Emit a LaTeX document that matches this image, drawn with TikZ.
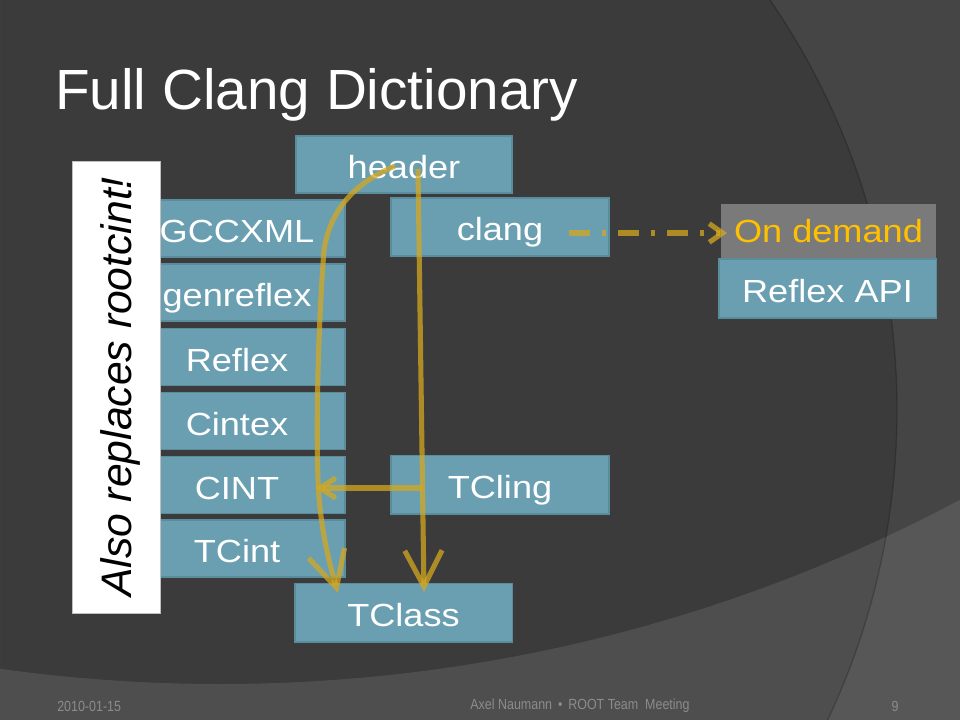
\documentclass[tikz,border=0pt]{standalone}
\usepackage{fontspec}
\setmainfont{Liberation Sans}
\newfontfamily\boxfont[FakeStretch=1.13]{Liberation Sans}
\newfontfamily\footfont[FakeStretch=0.85]{Liberation Sans}
\usetikzlibrary{arrows.meta,calc}
\definecolor{bgdark}{HTML}{3B3B3B}
\definecolor{bgright}{HTML}{454545}
\definecolor{boxfill}{HTML}{6A9FB2}
\definecolor{boxline}{HTML}{5A8C9E}
\definecolor{gold}{HTML}{D4A820}
\definecolor{demandgray}{HTML}{7A7A7A}
\definecolor{demandtext}{HTML}{FFC000}
\definecolor{foot}{HTML}{8C8C8C}
\tikzset{
  blk/.style={draw=boxline, line width=1pt, fill=boxfill, inner sep=0pt,
    text=white, font=\boxfont\fontsize{24}{28}\selectfont,
    text height=21pt, text depth=0pt},
  colbox/.style={blk, minimum width=162pt, minimum height=42.75pt},
  flow/.style={draw=gold, draw opacity=0.75, line width=3.8pt},
  bigtip/.style={-{Straight Barb[length=27pt,width=28pt]}},
  smalltip/.style={-{Straight Barb[length=12pt,width=15pt]}},
  foottext/.style={text=foot, font=\footfont\fontsize{11}{13}\selectfont, inner sep=0pt}
}
\begin{document}
\begin{tikzpicture}[x=0.75pt,y=-0.75pt]
\useasboundingbox (0,0) rectangle (960,720);
% background
\begin{scope}
  \clip (0,0) rectangle (960,720);
  \fill[bgright] (0,0) rectangle (960,720);
  \fill[bgdark] (172,410) circle[radius=725];
  \fill[white, opacity=0.1, even odd rule] (0,0) rectangle (960,720) (220,-892) circle[radius=1576];
  \draw[black, opacity=0.2, line width=1pt] (172,410) circle[radius=725];
\end{scope}

% title
\node[anchor=base west, inner sep=0pt, text=white, font=\fontsize{42.5}{48}\selectfont] (title) at (55,110) {Full Clang Dictionary};

% left column
\node[colbox] (gccxml)    at (237,228.5) {GCCXML};
\node[colbox] (genreflex) at (237,292.5) {genreflex};
\node[colbox] (reflex)    at (237,357)   {Reflex};
\node[colbox] (cintex)    at (237,421)   {Cintex};
\node[colbox] (cint)      at (237,485)   {CINT};
\node[colbox] (tcint)     at (237,548.5) {TCint};

% white side box
\node[draw=black!25, line width=0.6pt, fill=white, rotate=90, inner sep=0pt,
      minimum width=339pt, minimum height=66pt, text=black,
      font=\itshape\fontsize{32}{36}\selectfont, text height=23pt, text depth=0pt]
      (also) at (116,387) {Also replaces rootcint!};

% central boxes
\node[blk, minimum width=162pt, minimum height=42.75pt] (header) at (404,164.5) {header};
\node[blk, minimum width=163.5pt, minimum height=43.5pt] (clang) at (500,227) {clang};
\node[blk, minimum width=163.5pt, minimum height=44pt] (tcling) at (500,484.5) {TCling};
\node[blk, minimum width=163pt, minimum height=44pt] (tclass) at (403.5,612.5) {TClass};

% right boxes
\node[fill=demandgray, inner sep=0pt, minimum width=161pt, minimum height=40.5pt,
      text=demandtext, font=\boxfont\fontsize{24}{28}\selectfont, text height=17.5pt, text depth=0pt]
      (ondemand) at (828.5,231) {On demand};
\node[blk, minimum width=163pt, minimum height=44pt] (reflexapi) at (827.5,288.5) {Reflex API};

% connectors
\draw[flow, bigtip] ([shift={(14,4.5)}]header.center) -- ([shift={(20.5,-20.5)}]tclass.center);
\draw[flow, bigtip] ([shift={(-9,1.5)}]header.center)
   .. controls (352,184) and (330,212) .. (324,250)
   .. controls (318,330) and (316,420) .. (318,480)
   .. controls (320,530) and (330,565) .. ([shift={(-65.5,-19.5)}]tclass.center);
\draw[flow, smalltip] ([shift={(-77,3.5)}]tcling.center) -- ([shift={(78,3)}]cint.center);
\draw[flow, line cap=butt, dash pattern=on 15.75pt off 9pt on 3pt off 9pt,
      -{Straight Barb[length=10pt,width=14pt]}]
      ([shift={(69,6)}]clang.center) -- ([shift={(-101.5,2)}]ondemand.center);

% footer
\node[foottext, anchor=west] (date) at (57,706) {2010-01-15};
\node[foottext] (author) at (580,706) {Axel Naumann \,\textbullet\, ROOT Team \ Meeting};
\node[foottext] (page) at (895,706) {9};
\end{tikzpicture}
\end{document}
